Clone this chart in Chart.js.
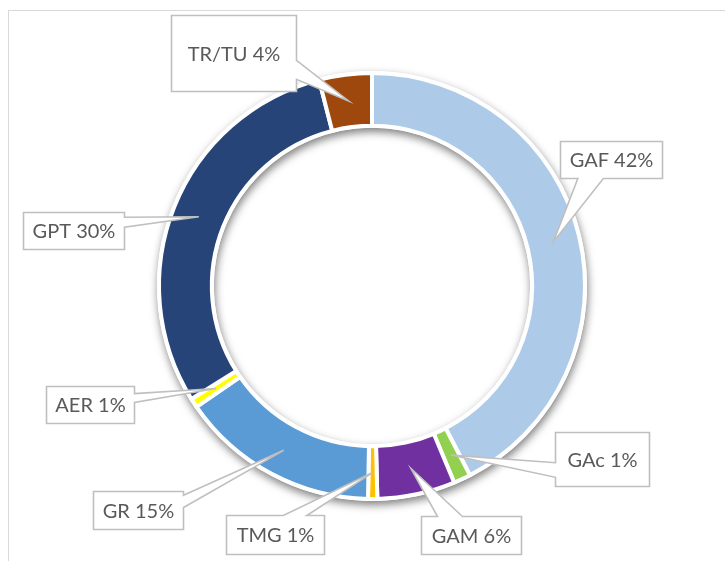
<!DOCTYPE html>
<html>
<head>
<meta charset="utf-8">
<script src="https://cdn.jsdelivr.net/npm/chart.js@4"></script>
<style>
  html, body { margin: 0; padding: 0; background: #fff; overflow: hidden; }
  #wrap { position: absolute; left: 0; top: 0; width: 725px; height: 561px; }
</style>
</head>
<body>
<div id="wrap"><canvas id="ringChart"></canvas></div>
<script>
const categories = ['GAF', 'GAc', 'GAM', 'TMG', 'GR', 'AER', 'GPT', 'TR/TU'];
const shares = [42.4, 1.3, 5.9, 0.7, 15.1, 0.7, 29.9, 4.0];
const sliceColors = ['#ADCBE9', '#92D050', '#7030A0', '#FFC000', '#5B9BD5', '#FFFF00', '#264478', '#9E480E'];

// posizione dei riquadri delle etichette rispetto al centro della ciambella
// [dx, dy, larghezza, altezza, lato del "becco", inizio, fine]
const calloutLayout = [
    [188, -145, 102, 37, 'bottom', 0.17, 0.42],
    [183, 146, 94, 54, 'left', 0.56, 0.83],
    [49, 230, 100, 38, 'top', 0.16, 0.41],
    [-146, 229, 98, 39, 'top', 0.58, 0.82],
    [-279, 205, 90, 38, 'right', 0.10, 0.42],
    [-326, 100, 88, 37, 'right', 0.19, 0.43],
    [-349, -74, 101, 37, 'right', 0.13, 0.40],
    [-201, -271, 125, 76, 'right', 0.59, 0.84]
];

// percorso del riquadro con il becco verso lo spicchio
function calloutPath(ctx, x, y, w, h, side, b0, b1, tx, ty) {
    ctx.beginPath();
    ctx.moveTo(x, y);
    if (side === 'top') { ctx.lineTo(x + w * b0, y); ctx.lineTo(tx, ty); ctx.lineTo(x + w * b1, y); }
    ctx.lineTo(x + w, y);
    if (side === 'right') { ctx.lineTo(x + w, y + h * b0); ctx.lineTo(tx, ty); ctx.lineTo(x + w, y + h * b1); }
    ctx.lineTo(x + w, y + h);
    if (side === 'bottom') { ctx.lineTo(x + w * b1, y + h); ctx.lineTo(tx, ty); ctx.lineTo(x + w * b0, y + h); }
    ctx.lineTo(x, y + h);
    if (side === 'left') { ctx.lineTo(x, y + h * b1); ctx.lineTo(tx, ty); ctx.lineTo(x, y + h * b0); }
    ctx.closePath();
}

const frameAndShadow = {
    id: 'frameAndShadow',
    beforeDraw(chart) {
        const ctx = chart.ctx;
        ctx.save();
        ctx.strokeStyle = '#d9d9d9';
        ctx.lineWidth = 1;
        ctx.strokeRect(8.5, 10.5, 900, 700);
        ctx.restore();
    },
    beforeDatasetsDraw(chart) {
        const arc = chart.getDatasetMeta(0).data[0];
        if (!arc) return;
        const ctx = chart.ctx;
        ctx.save();
        ctx.shadowColor = 'rgba(0,0,0,0.5)';
        ctx.shadowBlur = 8;
        ctx.shadowOffsetX = 1;
        ctx.shadowOffsetY = 4;
        ctx.fillStyle = '#fff';
        ctx.beginPath();
        ctx.arc(arc.x, arc.y, arc.outerRadius + 2, 0, Math.PI * 2);
        ctx.arc(arc.x, arc.y, arc.innerRadius - 2, 0, Math.PI * 2, true);
        ctx.fill();
        ctx.restore();
    }
};

const callouts = {
    id: 'callouts',
    afterDatasetsDraw(chart) {
        const ctx = chart.ctx;
        const meta = chart.getDatasetMeta(0);
        const first = meta.data[0];
        ctx.save();
        ctx.font = '20px Lato';
        ctx.textAlign = 'center';
        ctx.textBaseline = 'middle';
        meta.data.forEach((arc, i) => {
            const [dx, dy, w, h, side, b0, b1] = calloutLayout[i];
            const tip = arc.tooltipPosition();
            const x = Math.round(first.x + dx) + 0.5;
            const y = Math.round(first.y + dy) + 0.5;
            calloutPath(ctx, x, y, w, h, side, b0, b1, tip.x, tip.y);
            ctx.fillStyle = '#fff';
            ctx.fill();
            ctx.strokeStyle = '#bfbfbf';
            ctx.lineWidth = 1.6;
            ctx.stroke();
            ctx.fillStyle = '#595959';
            ctx.fillText(categories[i] + ' ' + Math.round(shares[i]) + '%', x + w / 2, y + h / 2 + 1);
        });
        ctx.restore();
    }
};

new Chart(document.getElementById('ringChart').getContext('2d'), {
    type: 'doughnut',
    data: {
        labels: categories,
        datasets: [{
            data: shares,
            backgroundColor: sliceColors,
            borderColor: '#ffffff',
            borderWidth: 4,
            borderJoinStyle: 'miter'
        }]
    },
    options: {
        responsive: true,
        maintainAspectRatio: false,
        animation: false,
        radius: 213,
        cutout: '75.2%',
        layout: { padding: { left: 19, right: 0, top: 11, bottom: 0 } },
        plugins: {
            legend: { display: false },
            tooltip: { enabled: false }
        }
    },
    plugins: [frameAndShadow, callouts]
});
</script>
</body>
</html>
